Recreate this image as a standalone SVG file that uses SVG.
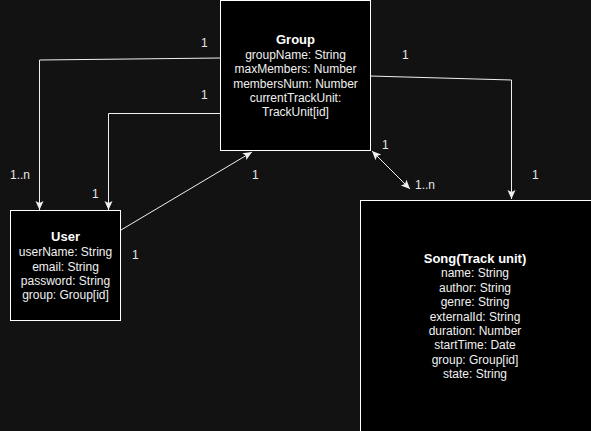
<svg xmlns="http://www.w3.org/2000/svg" width="591" height="431" viewBox="0 0 591 431">
<defs>
<style>
.box{fill:#000;stroke:#fff;stroke-width:1}
.t{font-family:"Liberation Sans",Arial,sans-serif;font-size:12px;fill:#f0f0f0;text-anchor:middle}
.b{font-weight:bold;font-size:13px;fill:#fff}
.lbl{font-family:"Liberation Sans",Arial,sans-serif;font-size:12px;fill:#e6e6e6}
.e{fill:none;stroke:#f0f0f0;stroke-width:1}
</style>
<marker id="a" markerWidth="11" markerHeight="9" refX="10" refY="4.5" orient="auto-start-reverse" markerUnits="userSpaceOnUse">
<path d="M1,0.5 L10,4.5 L1,8.5 L3,4.5 Z" fill="#f0f0f0"/>
</marker>
</defs>
<rect width="591" height="431" fill="#121212"/>
<g id="connectors">
<path class="e" d="M220,58 L39.5,60 L39.5,210" marker-end="url(#a)"/>
<path class="e" d="M220,113.5 L108.5,113.5 L108.5,210" marker-end="url(#a)"/>
<path class="e" d="M121,230 L252,152" marker-end="url(#a)"/>
<path class="e" d="M372,151 L410,189" marker-start="url(#a)" marker-end="url(#a)"/>
<path class="e" d="M370,76 L511.5,80 L511.5,199" marker-end="url(#a)"/>
<text class="lbl" x="201" y="47">1</text>
<text class="lbl" x="10" y="179">1..n</text>
<text class="lbl" x="201" y="99">1</text>
<text class="lbl" x="92" y="198">1</text>
<text class="lbl" x="252" y="179">1</text>
<text class="lbl" x="132" y="259">1</text>
<text class="lbl" x="382" y="149">1</text>
<text class="lbl" x="415" y="189">1..n</text>
<text class="lbl" x="402" y="59">1</text>
<text class="lbl" x="532" y="179">1</text>
</g>
<g id="group">
<rect class="box" x="220.5" y="0.5" width="150" height="150"/>
<text class="t b" x="295.5" y="44">Group</text>
<text class="t" x="295.5" y="59">groupName: String</text>
<text class="t" x="295.5" y="73">maxMembers: Number</text>
<text class="t" x="295.5" y="88">membersNum: Number</text>
<text class="t" x="295.5" y="102">currentTrackUnit:</text>
<text class="t" x="295.5" y="116">TrackUnit[id]</text>
</g>
<g id="user">
<rect class="box" x="10.5" y="210.5" width="110" height="110"/>
<text class="t b" x="65.5" y="241">User</text>
<text class="t" x="65.5" y="256">userName: String</text>
<text class="t" x="65.5" y="271">email: String</text>
<text class="t" x="65.5" y="285">password: String</text>
<text class="t" x="65.5" y="299">group: Group[id]</text>
</g>
<g id="song">
<rect class="box" x="360.5" y="200.5" width="240" height="240"/>
<text class="t b" x="475" y="263">Song(Track unit)</text>
<text class="t" x="475" y="277">name: String</text>
<text class="t" x="475" y="292">author: String</text>
<text class="t" x="475" y="306">genre: String</text>
<text class="t" x="475" y="321">externalId: String</text>
<text class="t" x="475" y="335">duration: Number</text>
<text class="t" x="475" y="349">startTime: Date</text>
<text class="t" x="475" y="364">group: Group[id]</text>
<text class="t" x="475" y="378">state: String</text>
</g>
</svg>
